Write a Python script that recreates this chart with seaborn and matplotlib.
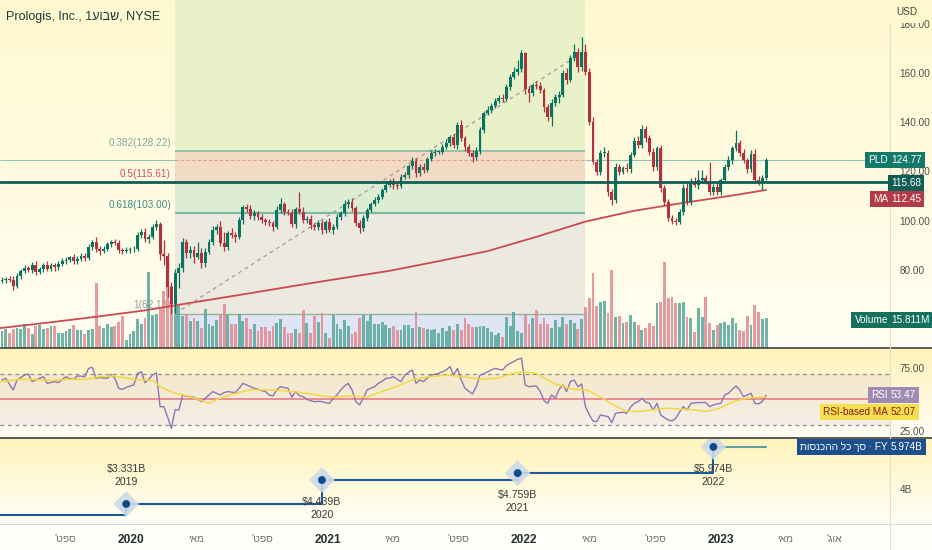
import matplotlib
matplotlib.use('Agg')
import matplotlib.pyplot as plt
import seaborn as sns
import numpy as np
import pandas as pd
from matplotlib import font_manager
from matplotlib.lines import Line2D
from matplotlib.colors import to_rgb

W, H = 932, 550

# weekly candles, first bar = week of 2019-05-06
first_bar = '2019-05-06'
first_open = 75.5
closes = [
    76.0, 76.2, 75.8, 73.4, 77.5, 79.6, 80.6, 80.0, 82.0, 79.2,
    80.3, 82.0, 80.4, 81.8, 81.0, 82.5, 83.5, 84.0, 85.0, 83.5,
    84.5, 85.5, 84.8, 89.4, 91.4, 88.5, 87.8, 88.5, 90.5, 91.2,
    91.0, 88.0, 87.5, 88.0, 88.3, 88.6, 94.0, 95.5, 92.5, 93.5,
    97.4, 98.6, 86.5, 85.5, 73.0, 66.0, 78.7, 80.7, 91.4, 86.7,
    88.0,
    85.4, 87.0, 82.8, 87.4, 91.4, 96.2, 97.5, 90.8, 89.4, 94.8,
    94.0, 93.5, 100.2, 105.4, 104.6, 101.9, 103.0, 101.3, 100.2, 99.6,
    98.9, 97.5, 104.3, 106.7, 103.6, 103.2, 98.6, 104.6, 103.6, 100.2,
    100.5, 98.2, 97.3, 98.9, 96.2, 99.6, 96.2, 97.5, 101.3, 103.0,
    106.7, 107.7, 105.0, 98.9, 96.9, 100.9, 104.3, 106.7, 108.4, 109.7,
    112.4, 114.5, 115.8,
    114.5, 114.1, 117.9, 118.5, 122.2, 124.2, 119.2, 121.9, 120.6, 124.9,
    127.4, 128.0, 128.0, 129.8, 131.7, 133.9, 130.7, 138.9, 133.5, 129.8,
    127.6, 125.7, 128.4, 136.8, 143.6, 145.0, 146.6, 148.7, 150.0, 149.6,
    154.4, 158.5, 160.5, 161.5, 168.0, 153.4, 151.7, 155.1, 154.8, 153.1,
    146.3, 142.0, 147.9, 150.4, 151.1, 159.9, 157.2, 166.0, 168.7, 162.3,
    168.7,
    160.5, 140.2, 124.0, 119.9, 127.4, 127.6, 111.8, 108.4, 121.9, 119.9,
    121.3, 120.9, 126.7, 132.5, 130.7, 137.1, 133.5, 128.0, 121.7, 129.4,
    113.1, 107.7, 100.9, 100.0, 99.6, 103.6, 113.1, 107.7, 115.8, 114.5,
    116.5, 117.2, 115.8, 111.8, 113.8, 111.8, 116.5, 121.9, 124.6, 129.4,
    131.4, 127.6, 124.6, 120.9, 127.1, 116.5, 115.8, 117.2, 124.8,
]
up_wick = [
    1.0, 0.8, 1.2, 1.5, 1.0, 0.9, 1.3, 1.0, 1.2, 1.6,
    1.0, 0.8, 1.4, 1.0, 1.1, 0.9, 1.2, 1.0, 0.8, 1.3,
    1.0, 1.2, 1.5, 1.0, 0.9, 1.8, 1.0, 1.2, 0.8, 1.1,
    1.3, 1.0, 0.9, 1.2, 0.8, 1.0, 1.4, 1.2, 1.5, 1.0,
    1.2, 1.5, 0.8, 5.5, 1.5, 2.0, 1.5, 2.0, 1.5, 1.2,
    1.5, 1.8, 4.5, 2.0, 1.5, 1.2, 1.5, 1.0, 2.5, 4.5,
    1.0, 2.0, 1.5, 1.2, 1.0, 1.5, 1.8, 1.2, 1.0, 1.5,
    1.0, 1.2, 0.8, 1.5, 2.5, 1.0, 1.2, 1.5, 1.0, 7.2,
    2.0, 1.5, 1.8, 1.0, 1.2, 1.5, 0.8, 1.6, 1.0, 1.2,
    1.0, 1.5, 1.2, 1.3, 1.0, 1.2, 1.5, 1.0, 0.8, 1.2,
    1.0, 0.8, 1.2, 1.0, 1.5, 1.2, 1.0, 1.4, 1.0, 1.6,
    1.2, 1.0, 1.5, 0.8, 1.2, 1.0, 0.8, 1.2, 1.5, 1.0,
    1.5, 1.0, 2.0, 1.0, 1.2, 1.0, 1.5, 1.2, 1.0, 1.5,
    1.0, 1.2, 1.0, 1.5, 1.2, 1.0, 2.0, 3.8, 1.3, 0.5,
    1.2, 1.0, 1.8, 1.5, 1.0, 1.2, 1.5, 1.0, 1.5, 1.2,
    2.0, 1.5, 3.0, 1.5, 6.0, 3.0, 1.5, 1.8, 1.0, 1.2,
    2.5, 1.2, 1.0, 1.5, 1.2, 1.0, 2.0, 1.2, 1.5, 1.8,
    1.8, 1.5, 1.2, 1.5, 1.0, 1.5, 1.2, 1.0, 1.5, 1.2,
    1.0, 1.8, 2.5, 1.5, 2.0, 4.0, 3.5, 1.5, 8.0, 1.2,
    1.5, 1.0, 1.2, 1.5, 1.0, 5.4, 1.2, 1.5, 1.0, 1.5,
    2.0, 1.5, 1.2, 0.5,
]
dn_wick = [
    1.0, 1.2, 0.8, 1.5, 1.0, 1.2, 0.8, 1.0, 1.3, 1.5,
    1.0, 1.2, 0.8, 1.0, 1.5, 1.0, 0.8, 1.2, 1.0, 1.3,
    1.0, 0.8, 1.2, 1.0, 1.5, 1.2, 1.6, 1.0, 0.8, 1.2,
    1.0, 1.3, 1.0, 0.8, 1.2, 1.0, 0.8, 1.2, 1.0, 1.5,
    1.0, 1.2, 2.5, 3.5, 4.0, 3.8, 3.5, 6.0, 1.5, 2.0,
    2.0, 2.5, 1.0, 2.0, 1.5, 1.0, 1.2, 1.5, 1.0, 1.8,
    1.5, 1.2, 2.0, 1.0, 1.5, 1.0, 1.2, 1.5, 1.0, 1.2,
    1.5, 1.0, 1.8, 1.0, 1.2, 1.5, 1.0, 1.2, 1.5, 1.0,
    1.2, 1.0, 1.5, 1.2, 1.0, 1.5, 1.2, 1.0, 1.5, 1.0,
    1.2, 1.0, 1.5, 1.0, 1.2, 1.8, 1.0, 1.2, 1.0, 0.8,
    1.2, 1.0, 0.8, 1.0, 1.5, 1.2, 1.0, 0.8, 1.0, 1.2,
    1.5, 1.0, 1.2, 1.0, 0.8, 1.2, 1.0, 1.0, 0.8, 1.2,
    1.0, 1.5, 1.0, 1.5, 1.2, 2.0, 1.0, 1.2, 1.0, 0.8,
    1.2, 1.0, 1.0, 1.2, 1.0, 1.5, 1.0, 1.2, 1.0, 2.0,
    3.5, 1.0, 1.5, 1.2, 2.0, 1.5, 3.5, 1.2, 2.5, 1.0,
    1.5, 1.0, 1.2, 2.0, 1.5, 1.2, 1.5, 1.0, 1.5, 1.2,
    1.5, 2.0, 2.0, 1.2, 1.5, 1.0, 1.2, 1.5, 1.0, 1.2,
    1.0, 1.5, 1.2, 1.5, 1.2, 1.5, 1.5, 1.2, 1.5, 1.4,
    1.0, 1.2, 1.5, 1.2, 1.0, 1.5, 1.2, 1.0, 1.2, 1.5,
    1.2, 1.5, 1.0, 1.2, 1.5, 1.0, 1.2, 1.0, 1.5, 1.2,
    1.0, 1.2, 3.4, 0.5,
]
volume_m = [
    8.9, 10.0, 7.9, 10.0, 10.5, 10.0, 12.6, 10.5, 7.4, 11.6,
    12.1, 10.0, 10.5, 11.6, 11.6, 7.9, 7.9, 8.9, 10.0, 12.1,
    9.5, 9.5, 7.4, 9.5, 10.0, 34.2, 11.6, 10.5, 12.6, 11.0,
    11.6, 13.7, 16.8, 4.2, 7.4, 8.9, 15.3, 12.6, 15.8, 40.0,
    17.4, 17.9, 20.5, 30.0, 36.8, 32.6, 39.5, 23.2, 16.8, 17.9,
    14.2,
    15.6, 14.2, 10.7, 20.4, 12.8, 11.6, 14.6, 17.4, 23.0, 17.4,
    12.5, 12.8, 18.1, 14.2, 16.0, 9.8, 12.8, 8.9, 11.1, 11.1,
    8.9, 11.6, 13.3, 15.1, 11.1, 8.1, 8.1, 9.8, 8.1, 19.8,
    13.3, 8.1, 16.8, 13.7, 18.6, 8.1, 5.4, 17.4, 12.5, 9.8,
    14.6, 11.6, 7.2, 8.4, 16.0, 17.4, 14.2, 17.4, 12.8, 12.5,
    13.7, 12.1, 10.7,
    11.6, 9.3, 9.3, 12.1, 12.1, 10.4, 18.9, 11.1, 10.4, 9.8,
    9.3, 10.2, 8.1, 10.4, 8.9, 11.6, 9.5, 12.5, 9.5, 16.0,
    12.8, 11.1, 11.2, 11.6, 11.6, 10.7, 8.6, 6.8, 8.1, 5.8,
    16.5, 11.6, 18.9, 8.9, 8.1, 17.4, 12.5, 16.0, 20.0, 12.8,
    15.6, 12.8, 10.7, 14.9, 11.1, 16.5, 12.8, 14.6, 13.3, 9.8,
    15.4,
    21.8, 26.1, 39.3, 22.1, 24.4, 24.9, 18.6, 41.1, 16.1, 16.8,
    13.0, 13.9, 17.4, 13.9, 12.1, 9.5, 10.4, 13.3, 11.6, 23.9,
    24.4, 45.4, 26.1, 27.0, 23.9, 23.5, 24.4, 16.1, 15.6, 8.6,
    20.9, 16.5, 27.0, 13.3, 9.5, 12.1, 13.0, 13.9, 12.1, 15.6,
    13.0, 9.5, 9.1, 16.8, 12.1, 22.6, 19.1, 15.1, 15.8,
]
rsi = [
    65.5, 66.8, 62.0, 57.5, 65.5, 67.5, 69.4, 70.2, 64.2, 65.5,
    66.8, 68.1, 62.8, 63.5, 64.2, 63.4, 66.0, 68.1, 66.5, 66.0,
    68.7, 68.5, 68.1, 74.7, 75.5, 66.8, 67.5, 67.0, 66.8, 69.9,
    66.8, 58.9, 58.1, 59.5, 60.7, 61.5, 70.7, 72.0, 63.4, 66.0,
    69.4, 71.2, 44.3, 44.3, 36.0, 27.1, 42.0, 41.6, 53.6, 52.5,
    52.3, 51.8, 50.0, 48.3, 51.0, 53.6, 56.3, 55.0, 53.6, 55.5,
    56.3, 55.8, 55.5, 58.9, 62.8, 61.5, 60.2, 58.9, 58.1, 57.0,
    56.3, 53.5, 52.9, 57.6, 60.2, 59.5, 58.9, 51.8, 56.3, 53.0,
    52.3, 50.2, 49.0, 48.3, 48.5, 48.3, 47.5, 47.0, 51.0, 53.6,
    57.6, 60.7, 62.8, 57.6, 48.3, 45.7, 51.0, 57.6, 59.0, 60.2,
    62.8, 64.5, 66.8, 67.0, 68.1, 66.0, 64.2, 69.4, 71.5, 73.4,
    62.8, 65.5, 64.2, 67.0, 69.4, 70.0, 70.7, 72.0, 73.4, 76.1,
    69.4, 74.7, 65.5, 58.9, 56.5, 54.4, 60.2, 69.4, 70.5, 72.0,
    73.5, 74.7, 74.0, 73.4, 77.0, 78.7, 80.1, 81.9, 82.7, 61.5,
    60.2, 60.5, 60.7, 56.3, 49.0, 47.0, 53.6, 51.0, 58.0, 61.5,
    56.3, 64.2, 65.5, 60.2, 62.3, 44.3, 38.0, 33.0, 32.4, 37.7,
    37.0, 36.4, 31.6, 39.0, 39.5, 39.8, 39.0, 44.0, 47.0, 48.3,
    51.0, 48.0, 47.0, 41.6, 47.0, 37.7, 35.5, 33.8, 33.0, 35.0,
    40.0, 44.3, 41.6, 47.0, 47.3, 47.6, 47.6, 47.6, 44.3, 45.7,
    46.5, 47.0, 53.6, 55.0, 58.0, 60.7, 57.6, 52.3, 53.5, 55.0,
    47.0, 46.5, 48.3, 53.47,
]
rsi_ma_week = [
    -0.5, 4.8, 8.3, 12.8, 17.2, 22.5, 26, 29.6, 34.9, 40.2,
    42, 45.5, 49.1, 52.6, 54.8, 57.9, 61.5, 65.9, 70.3, 74.8,
    79.2, 83.6, 88, 92.5, 96.9, 100.4, 104.8, 109.3, 113.7, 118.1,
    122.5, 127, 131.4, 135.8, 138.5, 142, 146.5, 151.8, 155.3, 158.9,
    162.4, 166, 169.5, 173, 176.6, 180.1, 183.7, 187.2, 190.7, 194.3,
    197.8, 203,
]
rsi_ma = [
    64.1, 66.0, 66.0, 65.0, 66.0, 66.0, 68.1, 68.7, 66.0, 65.0,
    60.2, 55.5, 52.9, 49.6, 47.0, 51.0, 54.5, 57.6, 57.6, 57.0,
    55.5, 53.6, 51.8, 52.9, 51.8, 55.8, 60.2, 66.0, 68.1, 69.4,
    68.1, 66.0, 66.8, 70.7, 72.0, 70.7, 62.8, 58.1, 57.6, 52.3,
    45.7, 40.5, 40.5, 41.8, 43.1, 42.3, 41.8, 40.5, 43.1, 48.3,
    51.0, 52.07,
]
ma_week = [-0.5, 12, 25, 38, 51, 64, 77, 90, 103, 116, 129, 142, 155, 168, 181, 194, 203]
ma_val = [56.3, 58.5, 60.9, 63.5, 66.8, 70.0, 73.3, 76.5, 79.6, 83.5, 87.6, 93.4, 99.6, 104.0, 107.2, 110.2, 112.45]

fib_ratio = ['0.382', '0.5', '0.618', '1']
fib_price = [128.22, 115.61, 103.00, 62.18]
fib_zero = 169.04
fib_start, fib_end = 46, 155

rev_year = ['2019', '2020', '2021', '2022']
rev_value = [3.331, 4.439, 4.759, 5.974]
rev_date = ['2019-12-23', '2020-12-21', '2021-12-20', '2022-12-19']
rev_prev = 2.80

last_price = 124.77
level_line = 115.68
ma_last = 112.45
vol_last = '15.811M'
rsi_last = 53.47
rsi_ma_last = 52.07
rev_last = '5.974B'

price_ticks = [80, 100, 120, 140, 160, 180]
tick_dates = ['2019-09-01', '2020-01-01', '2020-05-01', '2020-09-01', '2021-01-01', '2021-05-01',
              '2021-09-01', '2022-01-01', '2022-05-01', '2022-09-01', '2023-01-01', '2023-05-01',
              '2023-08-01']
tick_text = ["ספט'", '2020', 'מאי', "ספט'", '2021', 'מאי', "ספט'", '2022', 'מאי', "ספט'", '2023',
             'מאי', "אוג'"]


def vis(s):
    # matplotlib has no bidi, so Hebrew runs are reversed for display
    return s[::-1]


def week_of(d):
    return (pd.Timestamp(d) - pd.Timestamp(first_bar)).days / 7


def px_rect(x0, y0, x1, y1):
    return [x0 / W, 1 - y1 / H, (x1 - x0) / W, (y1 - y0) / H]


def blend(c1, c2, n):
    a, b = np.array(to_rgb(c1)), np.array(to_rgb(c2))
    t = np.linspace(0, 1, n)[:, None]
    return a + (b - a) * t


sns.set_style('white')
names = {f.name for f in font_manager.fontManager.ttflist}
fams = (['Liberation Sans Narrow'] if 'Liberation Sans Narrow' in names else []) + ['Liberation Sans', 'DejaVu Sans']
plt.rcParams['font.family'] = fams

fig = plt.figure(figsize=(W / 100, H / 100), dpi=100)

bg = fig.add_axes([0, 0, 1, 1])
rows = np.vstack([blend('#fff8cf', '#fffef2', 348), blend('#fff3ba', '#fffdf4', 89),
                  blend('#fff3ba', '#fffef6', 86), blend('#fffffb', '#fffffb', 27)])
bg.imshow(rows[:, None, :], aspect='auto', extent=[0, 1, 0, 1])
bg.axis('off')
bg.set_zorder(-10)

xmin, xmax = -2 / 3.764, 888 / 3.764
ax = fig.add_axes(px_rect(0, 0, 890, 348))
ax_rsi = fig.add_axes(px_rect(0, 349, 890, 437), sharex=ax)
ax_rev = fig.add_axes(px_rect(0, 438, 890, 523), sharex=ax)
axv = ax.twinx()
axp = ax.twinx()
for a in [ax, ax_rsi, ax_rev, axv, axp]:
    a.set_facecolor('none')
    for s in a.spines.values():
        s.set_visible(False)
    a.tick_params(axis='x', labelbottom=False, length=0)
ax.set_xlim(xmin, xmax)
ymin_p, ymax_p = 48.21, 189.67
ax.set_ylim(ymin_p, ymax_p)
axp.set_ylim(ymin_p, ymax_p)
ax.set_yticks([])
axv.set_yticks([])

# fibonacci retracement
bands = [(fib_price[0], ymax_p, '#e9f1c8'), (fib_price[1], fib_price[0], '#f3dac4'),
         (fib_price[2], fib_price[1], '#dcedd4'), (fib_price[3], fib_price[2], '#ece9df'),
         (ymin_p, fib_price[3], '#dfe5f4')]
for lo_, hi_, c in bands:
    ax.fill_between([fib_start, fib_end], lo_, hi_, color=c, lw=0, zorder=0)
for p, c, lw in [(fib_price[0], '#8dbfae', 1.3), (fib_price[2], '#7fb8a6', 1.6), (fib_price[3], '#93b39b', 1.0)]:
    ax.hlines(p, fib_start, fib_end, color=c, lw=lw, zorder=1)
lab_col = ['#7fa9a0', '#d0505e', '#3e8f80', '#9a9a9a']
for r, p, c in zip(fib_ratio, fib_price, lab_col):
    ax.annotate(f'{r}({p:.2f})', (fib_start, p), xytext=(-3, 2.5), textcoords='offset points',
                ha='right', va='bottom', fontsize=7.2, color=c)

ax.hlines(last_price, xmin, fib_start, color='#8cc6b8', lw=0.8, zorder=1)
ax.hlines(last_price, fib_end, xmax, color='#8cc6b8', lw=0.8, zorder=1)
ax.hlines(last_price, fib_start, fib_end, color='#d7a27f', lw=0.8, ls=(0, (3, 2)), zorder=1)

# candles and volume
cl = np.array(closes)
n = len(cl)
idx = np.arange(n)
op = np.array([first_open] + closes[:-1])
hi = np.maximum(op, cl) + np.array(up_wick)
lo = np.minimum(op, cl) - np.array(dn_wick)
up = cl >= op
ccol = np.where(up, '#0b7461', '#b3303c')
vcol = np.where(up, '#58a79b', '#e18a91')

axv.bar(idx, volume_m, width=0.76, color=vcol, alpha=0.85, linewidth=0)
axv.set_ylim(0, 348 / 1.9)

sns.lineplot(x=ma_week, y=ma_val, ax=axp, color='#c94b52', linewidth=1.3, zorder=2)
axp.plot([fib_start, fib_end], [fib_price[3], fib_zero], ls=(0, (3, 3)), color='#9c9c9c', lw=0.9, zorder=2)
axp.vlines(idx, lo, hi, colors=ccol, lw=0.9, zorder=3)
axp.bar(idx, np.maximum(np.abs(cl - op), 0.3), bottom=np.minimum(op, cl), width=0.76,
        color=ccol, linewidth=0, zorder=4)
axp.axhline(level_line, color='#0e5e56', lw=2.0, zorder=5)
axp.set_xlim(xmin, xmax)

axp.set_yticks(price_ticks)
axp.set_yticklabels([f'{v:.2f}' for v in price_ticks])
axp.tick_params(axis='y', length=0, pad=7, labelsize=7.2, labelcolor='#4f4f4f')

# RSI
ax_rsi.set_ylim(20.2, 90.1)
ax_rsi.fill_between([xmin, xmax], 30, 70, color='#7e57c2', alpha=0.08, lw=0)
for lvl in (70, 30):
    ax_rsi.axhline(lvl, color='#8e8a96', ls=(0, (3, 3)), lw=0.9)
ax_rsi.axhline(50, color='#ea8d97', lw=1.4)
sns.lineplot(x=idx, y=rsi, ax=ax_rsi, color='#9272b4', linewidth=1.0)
sns.lineplot(x=rsi_ma_week, y=rsi_ma, ax=ax_rsi, color='#f3d83f', linewidth=1.1)
ax_rsi.yaxis.tick_right()
ax_rsi.set_yticks([25, 75])
ax_rsi.set_yticklabels(['25.00', '75.00'])
ax_rsi.tick_params(axis='y', length=0, pad=7, labelsize=7.2, labelcolor='#4f4f4f')

# total revenue, FY
ax_rev.set_ylim(2.449, 6.384)
rx = [week_of(d) for d in rev_date]
sns.lineplot(x=[xmin] + rx, y=[rev_prev] + rev_value, ax=ax_rev, drawstyle='steps-post',
             color='#1d5a9a', linewidth=1.5, sort=False)
ax_rev.plot([rx[-1], n - 1], [rev_value[-1]] * 2, color='#5c9fa3', lw=1.5)
sns.scatterplot(x=rx, y=rev_value, ax=ax_rev, marker='D', s=170, color='#cdd9e8', edgecolor='none',
                alpha=0.9, zorder=3)
sns.scatterplot(x=rx, y=rev_value, ax=ax_rev, marker='o', s=32, color='#0d4b8e', edgecolor='none', zorder=4)
for i, (x, v, yr) in enumerate(zip(rx, rev_value, rev_year)):
    above = i == 0
    ax_rev.annotate(f'${v:.3f}B\n{yr}', (x, v), xytext=(0, 12 if above else -12), textcoords='offset points',
                    ha='center', va='bottom' if above else 'top', fontsize=7.6, color='#3a3a3a',
                    linespacing=1.4)
ax_rev.yaxis.tick_right()
ax_rev.set_yticks([4])
ax_rev.set_yticklabels(['4B'])
ax_rev.tick_params(axis='y', length=0, pad=7, labelsize=7.2, labelcolor='#4f4f4f')

ax_rev.set_xticks([week_of(d) for d in tick_dates])
ax_rev.set_xticklabels([t if t.isdigit() else vis(t) for t in tick_text])
ax_rev.tick_params(axis='x', labelbottom=True, length=0, pad=8)
for t in ax_rev.get_xticklabels():
    if t.get_text().isdigit():
        t.set_fontweight('bold')
        t.set_fontsize(8.6)
        t.set_color('#22302f')
    else:
        t.set_fontsize(7.4)
        t.set_color('#6d6d6d')
ax_rev.set_xlim(xmin, xmax)

# separators
for yy, c, lw in [(348, '#4d4d4d', 1.3), (437.5, '#4d4d4d', 1.3), (523.5, '#d9d9d9', 0.8)]:
    fig.add_artist(Line2D([0, 1], [1 - yy / H] * 2, color=c, lw=lw, transform=fig.transFigure))
fig.add_artist(Line2D([890 / W] * 2, [0, 1], color='#e4dfc9', lw=0.8, transform=fig.transFigure))

# texts
fig.text(6 / W, 1 - 17 / H, 'Prologis, Inc., 1' + vis('שבוע') + ', NYSE', fontsize=9.0,
         color='#1d3a3a', va='center', ha='left')
fig.text(896 / W, 1 - 12 / H, 'USD', fontsize=7.2, color='#444444', va='center', ha='left',
         bbox=dict(boxstyle='square,pad=0.6', fc='#fff8cf', ec='none'))


def tag(y, label, value, fc, tc='white', lfc=None):
    kw = dict(va='center', fontsize=7.2, color=tc)
    if label:
        fig.text(888 / W, 1 - y / H, label, ha='right',
                 bbox=dict(boxstyle='square,pad=0.32', fc=lfc or fc, ec='none'), **kw)
    fig.text(891 / W, 1 - y / H, value, ha='left',
             bbox=dict(boxstyle='square,pad=0.32', fc=fc, ec='none'), **kw)


tag(160, 'PLD', f'{last_price:.2f}', '#137a6a')
tag(183, None, f'{level_line:.2f}', '#0e5e56')
tag(199, 'MA', f'{ma_last:.2f}', '#b33a47')
tag(320, 'Volume', vol_last, '#15705f')
tag(395, 'RSI', f'{rsi_last:.2f}', '#a08ab2')
tag(412, 'RSI-based MA', f'{rsi_ma_last:.2f}', '#f5e04f', tc='#8b1a1a')
tag(447, vis('סך כל ההכנסות') + ' · FY', rev_last, '#1d4f8c')

fig.savefig('out.png', dpi=100)
